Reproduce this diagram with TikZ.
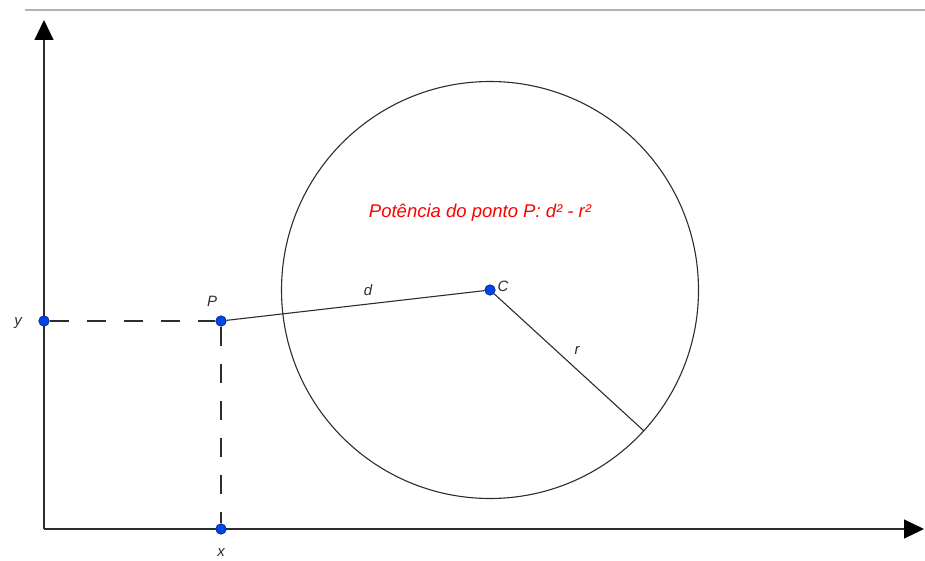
\documentclass[tikz,border=0pt]{standalone}
\usepackage{fontspec}
\setmainfont{Liberation Sans}
\usetikzlibrary{arrows.meta}
\definecolor{ptblue}{RGB}{0,72,230}
\definecolor{ptdark}{RGB}{0,20,140}
\definecolor{lncol}{RGB}{45,45,45}
\begin{document}
\begin{tikzpicture}[x=1pt,y=-1pt,
  ln/.style={draw=lncol, line width=1.1pt},
  dsh/.style={ln, dash pattern=on 19pt off 18pt},
  pt/.style={circle, fill=ptblue, draw=ptdark, line width=0.6pt, inner sep=0pt, minimum size=10.5pt},
  lbl/.style={font=\itshape\fontsize{15}{18}\selectfont, text=lncol, inner sep=1pt},
  axarrow/.style={ln, -{Triangle[length=20pt,width=19pt,color=black]}}]
\useasboundingbox (0,0) rectangle (925,561);
% top border line
\coordinate (TL) at (25,10);
\coordinate (TR) at (925,10);
\draw[gray!60, line width=1.6pt] (TL) -- (TR);
% axes
\coordinate (O) at (44,529);
\coordinate (Ytip) at (44,20);
\coordinate (Xtip) at (924,529);
\draw[axarrow] (O) -- (Ytip);
\draw[axarrow] (O) -- (Xtip);
% circle
\coordinate (Cc) at (490,290);
\draw[ln, line width=1.1pt] (Cc) circle (208.5);
\coordinate (Rend) at (644,431);
% points
\node[pt] (Y) at (44,321) {};
\node[pt] (P) at (221,321) {};
\node[pt] (X) at (221,529) {};
\node[pt] (C) at (Cc) {};
% connectors
\draw[dsh] (Y) -- (P);
\draw[dsh] (P) -- (X);
\draw[ln] (P) -- (C);
\draw[ln] (C) -- (Rend);
% labels
\node[lbl] (Ylab) at (18,323) {y};
\node[lbl] (Plab) at (212,301) {P};
\node[lbl] (Xlab) at (221,553) {x};
\node[lbl] (Clab) at (503,286) {C};
\node[lbl] (dlab) at (368,290) {d};
\node[lbl] (rlab) at (577,350) {r};
\node[lbl, text=red, font=\itshape\fontsize{18.5}{22}\selectfont] (title) at (480,213) {Potência do ponto P: d² - r²};
\end{tikzpicture}
\end{document}
